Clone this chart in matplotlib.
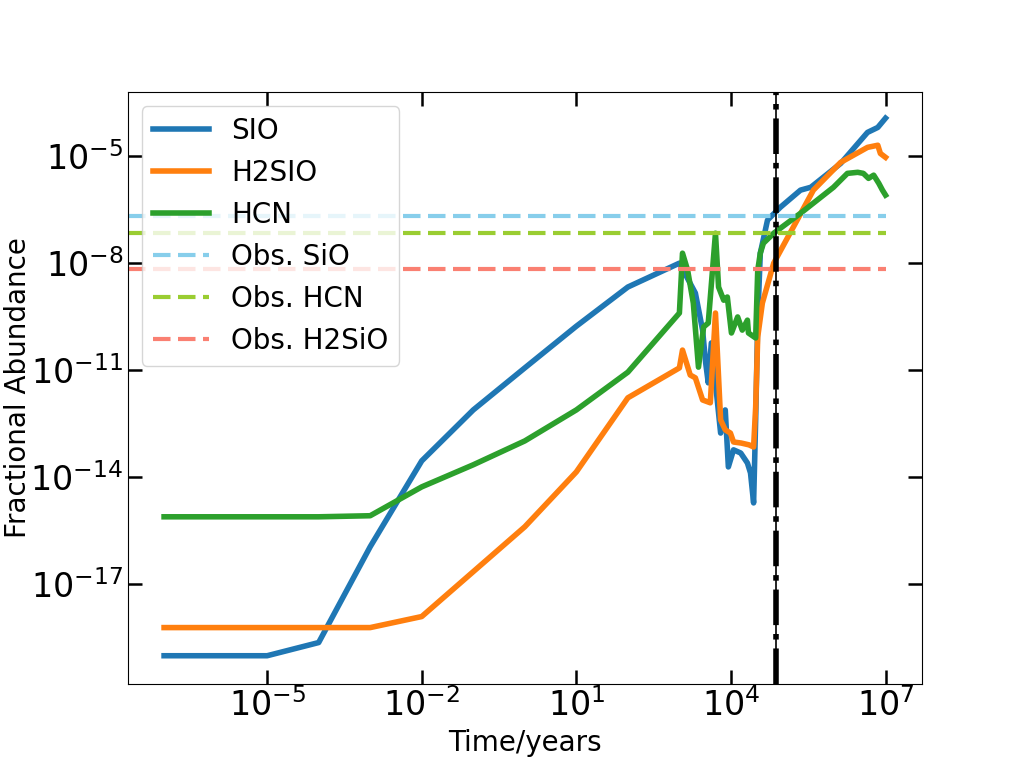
import numpy as np
import matplotlib
matplotlib.use("Agg")
import matplotlib.pyplot as plt
from matplotlib.ticker import FixedLocator, NullLocator, LogFormatterSciNotation

# ---- data (log10 of time in years, log10 of fractional abundance) ----
sio_logt = [-7, -6, -5, -4, -3, -2, -1, 0, 1, 2, 3, 3.31, 3.45, 3.51, 3.56, 3.62, 3.80, 3.89,
            3.95, 4.05, 4.19, 4.32, 4.38, 4.44, 4.48, 4.52, 4.57, 4.71, 4.96, 5.35, 5.55,
            6.13, 6.65, 6.85, 7.0]
sio_logx = [-19.02, -19.02, -19.02, -18.65, -15.96, -13.55, -12.12, -10.94, -9.77, -8.67, -8.0,
            -8.84, -9.88, -10.80, -11.36, -10.24, -12.77, -12.12, -13.72, -13.24, -13.33,
            -13.61, -13.89, -14.73, -12.40, -9.60, -7.72, -6.79, -6.43, -5.95, -5.87,
            -5.20, -4.33, -4.19, -3.93]

h2sio_logt = [-7, -6, -5, -4, -3, -2, -1, 0, 1, 2, 3, 3.06, 3.21, 3.31, 3.45, 3.60, 3.70, 3.80,
              3.89, 3.99, 4.05, 4.20, 4.35, 4.44, 4.48, 4.52, 4.61, 4.83, 5.21, 5.60, 6.13,
              6.65, 6.85, 6.90, 7.0]
h2sio_logx = [-18.23, -18.23, -18.23, -18.23, -18.23, -17.92, -16.66, -15.40, -13.86, -11.78,
              -10.94, -10.44, -11.14, -11.22, -11.84, -11.92, -9.40, -12.40, -12.68, -12.77,
              -13.02, -13.05, -13.10, -13.16, -12.04, -10.07, -9.12, -8.0, -6.99, -5.95,
              -5.17, -4.75, -4.69, -4.92, -5.03]

hcn_logt = [-7, -6, -5, -4, -3, -2, -1, 0, 1, 2, 3, 3.06, 3.16, 3.27, 3.37, 3.47, 3.56, 3.70,
            3.76, 3.86, 3.93, 4.01, 4.13, 4.22, 4.32, 4.34, 4.48, 4.52, 4.57, 4.63, 4.83,
            5.35, 5.99, 6.26, 6.46, 6.57, 6.67, 6.77, 6.87, 6.94, 7.0]
hcn_logx = [-15.12, -15.12, -15.12, -15.12, -15.09, -14.28, -13.66, -12.99, -12.12, -11.06,
            -9.40, -7.72, -8.20, -9.12, -10.92, -9.79, -9.68, -7.16, -8.67, -9.04, -8.95,
            -9.96, -9.51, -9.88, -9.60, -9.96, -10.10, -8.20, -7.72, -7.44, -7.16, -6.60,
            -5.87, -5.48, -5.45, -5.48, -5.62, -5.53, -5.76, -5.95, -6.09]

obs_names = ["Obs. SiO", "Obs. HCN", "Obs. H2SiO"]
obs_values = [2.1e-7, 6.9e-8, 6.8e-9]
obs_colors = ["skyblue", "yellowgreen", "salmon"]

t_marker = 7.4e4
x_limits = (10 ** -7.7, 10 ** 7.7)
y_limits = (10 ** -19.8, 10 ** -3.2)
x_ticks = [1e-5, 1e-2, 1e1, 1e4, 1e7]
y_ticks = [1e-17, 1e-14, 1e-11, 1e-8, 1e-5]

# ---- figure ----
fig, ax = plt.subplots(figsize=(10.24, 7.68), dpi=100)

ax.plot(np.power(10.0, sio_logt), np.power(10.0, sio_logx), color="tab:blue", lw=4, label="SIO")
ax.plot(np.power(10.0, h2sio_logt), np.power(10.0, h2sio_logx), color="tab:orange", lw=4, label="H2SIO")
ax.plot(np.power(10.0, hcn_logt), np.power(10.0, hcn_logx), color="tab:green", lw=4, label="HCN")

for name, val, col in zip(obs_names, obs_values, obs_colors):
    ax.plot([x_limits[0], 1e7], [val, val], color=col, lw=3,
            linestyle=(0, (4.2, 1.8)), label=name)

ax.axvline(t_marker, color="black", lw=1.2)
ax.axvline(t_marker, color="black", lw=4, linestyle="-.")

ax.set_xscale("log")
ax.set_yscale("log")
ax.set_xlim(*x_limits)
ax.set_ylim(*y_limits)

ax.xaxis.set_major_locator(FixedLocator(x_ticks))
ax.yaxis.set_major_locator(FixedLocator(y_ticks))
ax.xaxis.set_major_formatter(LogFormatterSciNotation())
ax.yaxis.set_major_formatter(LogFormatterSciNotation())
ax.xaxis.set_minor_locator(NullLocator())
ax.yaxis.set_minor_locator(NullLocator())

ax.tick_params(which="major", direction="in", top=True, right=True,
               length=10, width=1.8, labelsize=24)

ax.set_xlabel("Time/years", fontsize=20)
ax.set_ylabel("Fractional Abundance", fontsize=20)
ax.yaxis.set_label_coords(-0.121, 0.5)
ax.legend(loc="upper left", fontsize=20)

fig.subplots_adjust(left=0.125, right=0.9, bottom=0.11, top=0.88)
fig.savefig("out.png", dpi=100)
